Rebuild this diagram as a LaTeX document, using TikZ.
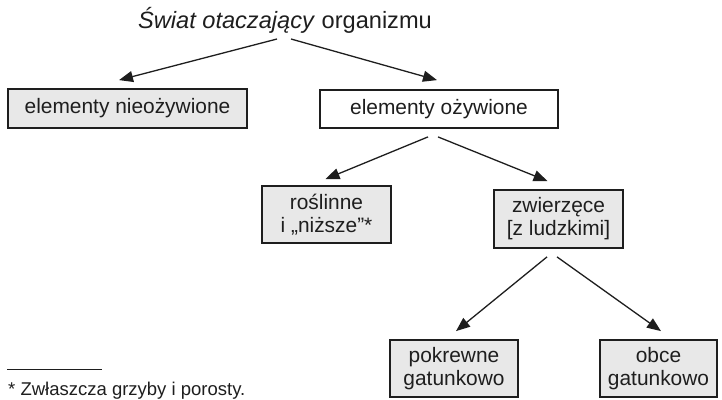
\documentclass[tikz,border=0pt]{standalone}
\usepackage{fontspec}
\setmainfont{Liberation Sans}
\usepackage{tikz}
\usetikzlibrary{arrows.meta, positioning}
\definecolor{boxfill}{HTML}{E8E8E8}
\definecolor{ink}{HTML}{1E1E1E}

\begin{document}
\begin{tikzpicture}[
    x=1pt, y=-1pt,
    font=\fontsize{20.9}{23}\selectfont,
    box/.style={draw=ink, fill=boxfill, line width=1.8pt, inner sep=0pt,
        minimum width=#1, align=center, text=ink},
    box/.default=131pt,
    arrow/.style={-{Triangle[length=14pt, width=11pt]}, line width=1.3pt, draw=ink}
]
\useasboundingbox (0,0) rectangle (722,399);

% Title
\node[anchor=base, text=ink, font=\fontsize{23.6}{26}\selectfont] (title) at (285,28)
    {\textit{Świat otaczający} organizmu};

% First level
\node[box=239pt, minimum height=39pt] (dead) at (127.5,108.5) {elementy nieożywione};
\node[box=238pt, minimum height=38pt, fill=white] (alive) at (439,109) {elementy ożywione};

% Second level
\node[box=129pt, minimum height=57pt] (plants) at (326.5,214.5) {roślinne\\i „niższe”*};
\node[box=129pt, minimum height=58pt] (animals) at (558.5,219) {zwierzęce\\{[z ludzkimi]}};

% Third level
\node[box=128pt, minimum height=57pt] (kin) at (454,368.5) {pokrewne\\gatunkowo};
\node[box=117pt, minimum height=57pt] (alien) at (658.5,368.5) {obce\\gatunkowo};

% Footnote
\draw[ink, line width=0.9pt] (7,369) coordinate (rulestart) -- (102,369) coordinate (ruleend);
\node[anchor=base west, inner sep=0pt, text=ink, font=\fontsize{18.5}{21}\selectfont] (note) at (8,395)
    {* Zwłaszcza grzyby i porosty.};

% Arrows
\draw[arrow] ([xshift=-8pt, yshift=-11pt]title.base) -- ([xshift=-8.5pt, yshift=8pt]dead.north);
\draw[arrow] ([xshift=6pt, yshift=-11pt]title.base) -- ([xshift=-2pt, yshift=9pt]alive.north);
\draw[arrow] ([xshift=-11pt, yshift=-8pt]alive.south) -- ([xshift=-1pt, yshift=6pt]plants.north);
\draw[arrow] ([xshift=-1pt, yshift=-8pt]alive.south) -- ([xshift=-11pt, yshift=8pt]animals.north);
\draw[arrow] ([xshift=-11.5pt, yshift=-8pt]animals.south) -- ([xshift=2pt, yshift=8pt]kin.north);
\draw[arrow] ([xshift=-1.5pt, yshift=-8pt]animals.south) -- ([xshift=2.5pt, yshift=8pt]alien.north);

\end{tikzpicture}
\end{document}
